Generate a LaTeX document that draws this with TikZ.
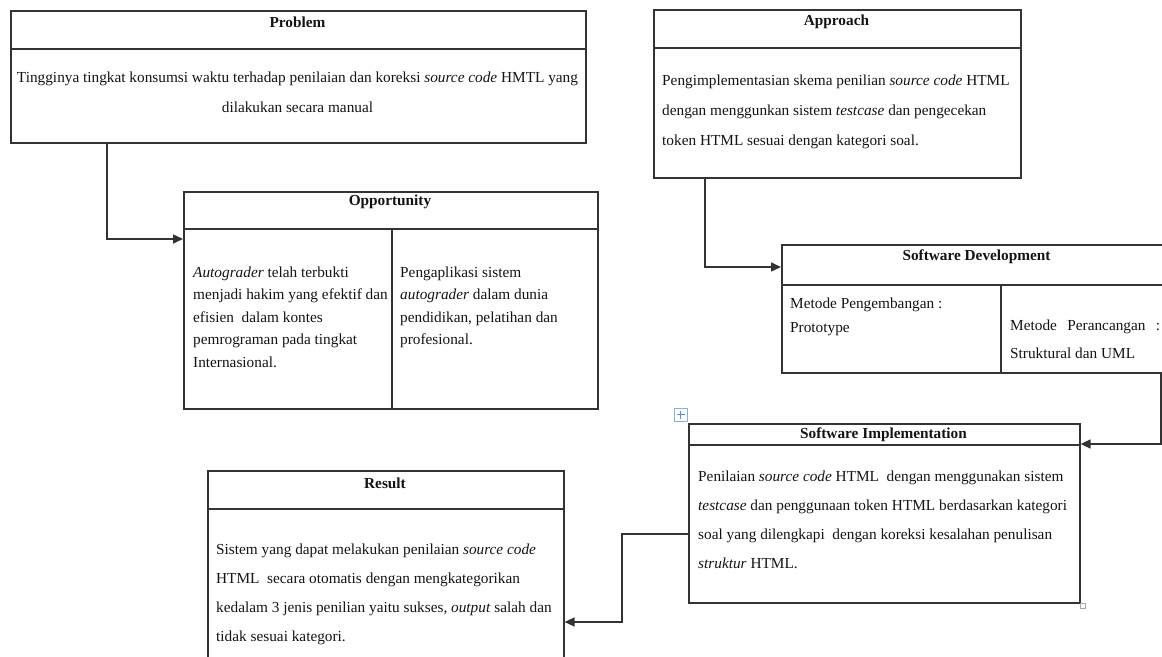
\documentclass[tikz,border=0pt]{standalone}
\usepackage{fontspec}
\setmainfont{Liberation Serif}
\usetikzlibrary{arrows.meta}
\definecolor{ln}{HTML}{333333}
\definecolor{tx}{HTML}{141414}
\definecolor{hb}{HTML}{5B8FC7}
\tikzset{
  box/.style={draw=ln, line width=1.6pt, anchor=north west, inner sep=0pt},
  sep/.style={draw=ln, line width=1.6pt},
  conn/.style={draw=ln, line width=1.5pt, -{Triangle[length=10pt,width=9pt]}},
  head/.style={anchor=base, inner sep=0pt, text=tx, font=\fontsize{15.3}{18}\selectfont\bfseries},
  body/.style={anchor=base west, inner sep=0pt, text=tx},
  cbody/.style={anchor=base, inner sep=0pt, text=tx},
}
\newcommand\blk[3]{\parbox[t]{#1}{\fontsize{15.3}{#2}\selectfont\raggedright #3\par}}
\newcommand\cblk[3]{\parbox[t]{#1}{\fontsize{15.3}{#2}\selectfont\centering #3\par}}
\begin{document}
\begin{tikzpicture}[x=1pt,y=-1pt]
\useasboundingbox (0,0) rectangle (1162,656);
\fill[white] (0,0) rectangle (1162,656);
\clip (0,0) rectangle (1162,656);

% boxes
\node[box, minimum width=575pt, minimum height=132pt] (prob) at (10,10) {};
\node[box, minimum width=367pt, minimum height=168pt] (appr) at (653,9) {};
\node[box, minimum width=414pt, minimum height=217pt] (opp) at (183,191) {};
\node[box, minimum width=391pt, minimum height=128pt] (sd) at (781,244) {};
\node[box, minimum width=391pt, minimum height=179pt] (si) at (688,423) {};
\node[box, minimum width=356pt, minimum height=210pt] (res) at (207,470) {};

% dividers
\draw[sep] ([yshift=-39pt]prob.north west) -- ([yshift=-39pt]prob.north east);
\draw[sep] ([yshift=-39pt]appr.north west) -- ([yshift=-39pt]appr.north east);
\draw[sep] ([yshift=-38pt]opp.north west) -- ([yshift=-38pt]opp.north east);
\draw[sep] ([xshift=209pt,yshift=-38pt]opp.north west) -- ([xshift=209pt]opp.south west);
\draw[sep] ([yshift=-41pt]sd.north west) -- ([yshift=-41pt]sd.north east);
\draw[sep] ([xshift=220pt,yshift=-41pt]sd.north west) -- ([xshift=220pt]sd.south west);
\draw[sep] ([yshift=-22pt]si.north west) -- ([yshift=-22pt]si.north east);
\draw[sep] ([yshift=-39pt]res.north west) -- ([yshift=-39pt]res.north east);

% headers
\node[head] (hprob) at (297.5,27) {Problem};
\node[head] (happr) at (836.5,25) {Approach};
\node[head] (hopp) at (390,205) {Opportunity};
\node[head] (hsd) at (976.5,260) {Software Development};
\node[head] (hsi) at (883.5,438) {Software Implementation};
\node[head] (hres) at (385,488) {Result};

% bodies
\node[cbody] (tprob) at (297.5,82) {\cblk{575pt}{30pt}{Tingginya tingkat konsumsi waktu terhadap penilaian dan koreksi \textit{source code} HMTL yang\\ dilakukan secara manual}};
\node[body] (tappr) at (662,85) {\blk{400pt}{30pt}{Pengimplementasian skema penilian \textit{source code} HTML\\ dengan menggunkan sistem \textit{testcase} dan pengecekan\\ token HTML sesuai dengan kategori soal.}};
\node[body] (topp1) at (193,277) {\blk{260pt}{22.5pt}{\textit{Autograder} telah terbukti\\ menjadi hakim yang efektif dan\\ efisien\ \ dalam kontes\\ pemrograman pada tingkat\\ Internasional.}};
\node[body] (topp2) at (400,277) {\blk{260pt}{22.5pt}{Pengaplikasi sistem\\ \textit{autograder} dalam dunia\\ pendidikan, pelatihan dan\\ profesional.}};
\node[body] (tsd1) at (790,308) {\blk{250pt}{24pt}{Metode Pengembangan :\\ Prototype}};
\node[body] (tsd2) at (1010,330) {\blk{250pt}{28pt}{\makebox[150pt][s]{Metode Perancangan :}\\ Struktural dan UML}};
\node[body] (tsi) at (698,481) {\blk{450pt}{29pt}{Penilaian \textit{source code} HTML\ \ dengan menggunakan sistem\\ \textit{testcase} dan penggunaan token HTML berdasarkan kategori\\ soal yang dilengkapi\ \ dengan koreksi kesalahan penulisan\\ \textit{struktur} HTML.}};
\node[body] (tres) at (216,554) {\blk{450pt}{29pt}{Sistem yang dapat melakukan penilaian \textit{source code}\\ HTML\ \ secara otomatis dengan mengkategorikan\\ kedalam 3 jenis penilian yaitu sukses, \textit{output} salah dan\\ tidak sesuai kategori.}};

% connectors
\draw[conn] ([xshift=97pt]prob.south west) |- ([yshift=-48pt]opp.north west);
\draw[conn] ([xshift=52pt]appr.south west) |- ([yshift=-23pt]sd.north west);
\draw[conn] ([xshift=380pt]sd.south west) |- ([yshift=-21pt]si.north east);
\draw[conn] ([yshift=-111pt]si.north west) -- ++(-66pt,0) |- ([yshift=-152pt]res.north east);

% editor handles
\node[draw=hb!70, fill=white, line width=0.6pt, minimum size=13pt, inner sep=0pt, anchor=north west] (mv) at (674,408) {};
\draw[hb, line width=0.8pt] ([xshift=3pt]mv.west) -- ([xshift=-3pt]mv.east);
\draw[hb, line width=0.8pt] ([yshift=-3pt]mv.north) -- ([yshift=3pt]mv.south);
\node[draw=gray!70, fill=white, line width=0.5pt, minimum size=5pt, inner sep=0pt, anchor=north west] (rz) at (1080,603) {};
\end{tikzpicture}
\end{document}
